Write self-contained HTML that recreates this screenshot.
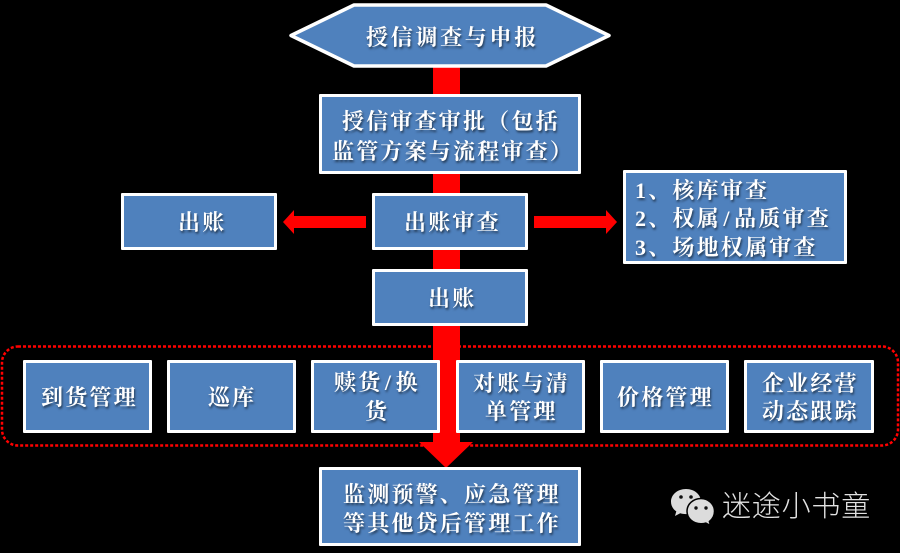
<!DOCTYPE html>
<html lang="zh">
<head>
<meta charset="utf-8">
<title>授信流程</title>
<style>
html,body{margin:0;padding:0;background:#000}
#p{position:relative;width:900px;height:553px;overflow:hidden;background:#000}
svg{position:absolute;left:0;top:0}
.b{position:absolute;box-sizing:border-box;background:#4f81bd;border:3.5px solid #fff;border-radius:1px}
.t{position:absolute;white-space:nowrap;color:#fff;font-family:"Liberation Serif","Noto Serif CJK SC",serif;font-weight:700;font-size:22px;letter-spacing:2.2px;line-height:30px;height:30px;text-shadow:1px 2px 2px rgba(0,0,0,.55)}
.t span{margin:0 2.500px}
.w{position:absolute;white-space:nowrap;color:#e2e2e2;font-family:"Liberation Sans","Noto Sans CJK SC",sans-serif;font-weight:300;font-size:29px;letter-spacing:.8px;line-height:36px;left:722px;top:489px}
</style>
</head>
<body>
<div id="p">
<svg width="900" height="553" viewBox="0 0 900 553">
  <rect x="2" y="346.5" width="896" height="99" rx="16" fill="none" stroke="#f00" stroke-width="2.5" stroke-dasharray="3 2"/>
  <rect x="433" y="66" width="27" height="380" fill="#f00"/>
  <polygon points="419,442 473,442 446,468" fill="#f00"/>
  <polygon points="366,216 294,216 294,210 283,222 294,234 294,228 366,228" fill="#f00"/>
  <polygon points="534,216 606,216 606,210 617,222 606,234 606,228 534,228" fill="#f00"/>
  <polygon points="291,35.500 354,5 546,5 609,35.500 546,66 354,66" fill="#4f81bd" stroke="#fff" stroke-width="3.500" stroke-linejoin="round"/>
  <g>
    <path d="M686 489c-8.500 0-15 5.600-15 12.800 0 4 2 7.300 5.300 9.600l-1.300 4.600 5.200-2.700c1.800.5 3.800.8 5.800.8 8.500 0 15-5.700 15-12.300 0-7.200-6.500-12.800-15-12.800z" fill="#dcdcdc"/>
    <circle cx="681" cy="497" r="1.800" fill="#111"/>
    <circle cx="691" cy="497" r="1.800" fill="#111"/>
    <path d="M701 498.500c-7.800 0-14 5.700-14 12.800s6.200 12.500 14 12.500c1.700 0 3.300-.2 4.800-.7l4.700 2.400-1.100-4c3-2.300 5.100-6 5.100-10.200 0-7.100-6.200-12.800-13.500-12.800z" fill="#dcdcdc" stroke="#000" stroke-width="1.500"/>
    <circle cx="696" cy="508" r="1.700" fill="#111"/>
    <circle cx="706" cy="508" r="1.700" fill="#111"/>
  </g>
</svg>

<div class="b" style="left:319px;top:94px;width:262px;height:80px"></div>
<div class="b" style="left:121px;top:193px;width:156px;height:57px"></div>
<div class="b" style="left:372px;top:193px;width:156px;height:57px"></div>
<div class="b" style="left:372px;top:269px;width:156px;height:57px"></div>
<div class="b" style="left:623px;top:170px;width:224px;height:94px"></div>
<div class="b" style="left:23px;top:360px;width:129px;height:73px"></div>
<div class="b" style="left:167px;top:360px;width:129px;height:73px"></div>
<div class="b" style="left:311px;top:360px;width:129px;height:73px"></div>
<div class="b" style="left:456px;top:360px;width:129px;height:73px"></div>
<div class="b" style="left:600px;top:360px;width:129px;height:73px"></div>
<div class="b" style="left:744px;top:360px;width:130px;height:73px"></div>
<div class="b" style="left:319px;top:467px;width:262px;height:79px"></div>

<div class="t" style="left:366px;top:23px;letter-spacing:2.7px">授信调查与申报</div>
<div class="t" style="left:342px;top:107px">授信审查审批（包括</div>
<div class="t" style="left:332px;top:137px">监管方案与流程审查）</div>
<div class="t" style="left:178px;top:208px">出账</div>
<div class="t" style="left:404px;top:208px">出账审查</div>
<div class="t" style="left:428px;top:284px">出账</div>
<div class="t" style="left:635px;top:176px">1、核库审查</div>
<div class="t" style="left:635px;top:204px">2、权属<span>/</span>品质审查</div>
<div class="t" style="left:635px;top:233px">3、场地权属审查</div>
<div class="t" style="left:41px;top:383px">到货管理</div>
<div class="t" style="left:208px;top:383px">巡库</div>
<div class="t" style="left:334px;top:368px">赎货<span>/</span>换</div>
<div class="t" style="left:365px;top:397px">货</div>
<div class="t" style="left:473px;top:369px">对账与清</div>
<div class="t" style="left:485px;top:397px">单管理</div>
<div class="t" style="left:617px;top:383px">价格管理</div>
<div class="t" style="left:762px;top:369px">企业经营</div>
<div class="t" style="left:762px;top:397px">动态跟踪</div>
<div class="t" style="left:343px;top:480px">监测预警、应急管理</div>
<div class="t" style="left:343px;top:509px">等其他贷后管理工作</div>
<div class="w">迷途小书童</div>
</div>
</body>
</html>
